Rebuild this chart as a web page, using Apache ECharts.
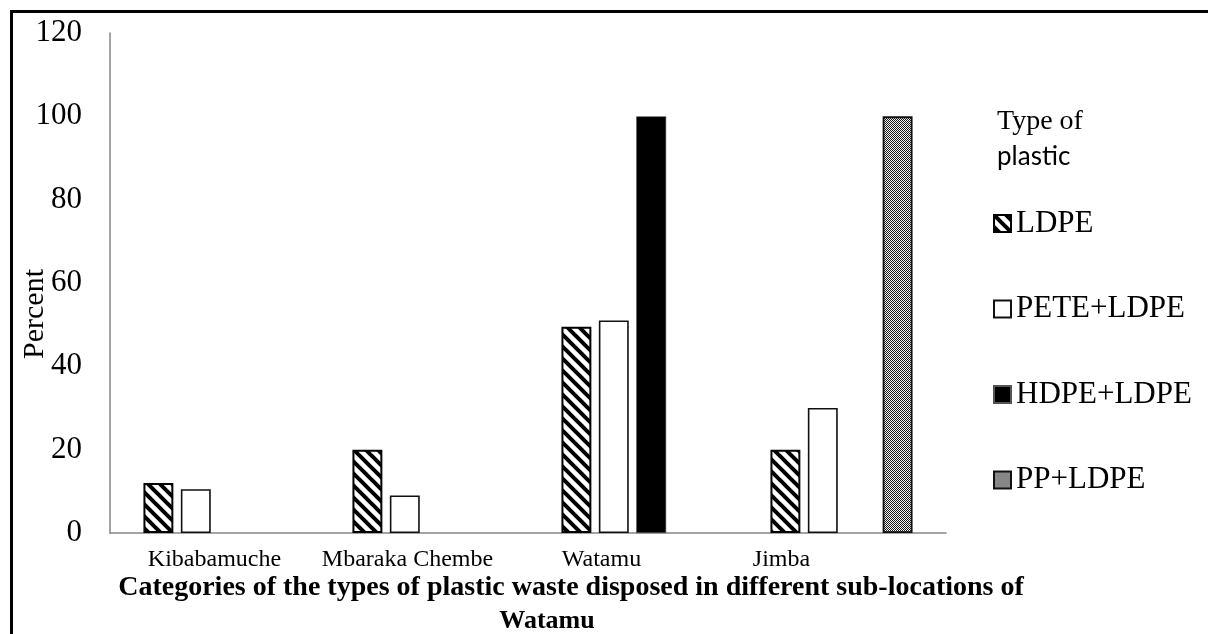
<!DOCTYPE html>
<html>
<head>
<meta charset="utf-8">
<script src="https://cdn.jsdelivr.net/npm/echarts@6/dist/echarts.min.js"></script>
<style>
html,body{margin:0;padding:0;background:#fff;}
#chart{width:1208px;height:634px;}
</style>
</head>
<body>
<div id="chart"></div>
<script>
// ---- data ----
const categories = ['Kibabamuche', 'Mbaraka Chembe', 'Watamu', 'Jimba'];
const seriesNames = ['LDPE', 'PETE+LDPE', 'HDPE+LDPE', 'PP+LDPE'];
const ldpe = [12, 20, 49.5, 20];
const peteLdpe = [10.5, 9, 51, 30];
const hdpeLdpe = [null, null, 100, null];
const ppLdpe = [null, null, null, 100];
const yTicks = [0, 20, 40, 60, 80, 100, 120];
const yAxisTitle = 'Percent';
const xAxisTitleLine1 = 'Categories of the types of plastic waste disposed in different sub-locations of';
const xAxisTitleLine2 = 'Watamu';
const legendTitle1 = 'Type of';
const legendTitle2 = 'plastic';

// ---- styles ----
const SERIF = "'Liberation Serif', 'Times New Roman', serif";

function stripePattern() {
  const c = document.createElement('canvas');
  c.width = 12; c.height = 12;
  const g = c.getContext('2d');
  g.fillStyle = '#fff'; g.fillRect(0, 0, 12, 12);
  g.strokeStyle = '#000'; g.lineWidth = 4;
  for (const x0 of [-12, 0, 12]) {
    g.beginPath(); g.moveTo(x0 - 2, -2); g.lineTo(x0 + 14, 14); g.stroke();
  }
  return c;
}
function checkerPattern() {
  const c = document.createElement('canvas');
  c.width = 2; c.height = 2;
  const g = c.getContext('2d');
  g.fillStyle = '#f4f4f4'; g.fillRect(0, 0, 2, 2);
  g.fillStyle = '#1a1a1a'; g.fillRect(0, 0, 1, 1); g.fillRect(1, 1, 1, 1);
  return c;
}

const labelShift = [0, 16, 31, 60];
const xData = categories.map((c, i) => ({
  value: c,
  textStyle: { padding: [0, labelShift[i] * 2, 0, 0] }
}));

const styles = [
  { color: { image: stripePattern(), repeat: 'repeat' }, borderColor: '#000', borderWidth: 2 },
  { color: '#fff', borderColor: '#111', borderWidth: 1.6 },
  { color: '#000', borderColor: '#555', borderWidth: 0.6 },
  { color: { image: checkerPattern(), repeat: 'repeat' }, borderColor: '#111', borderWidth: 1.8 }
];
const values = [ldpe, peteLdpe, hdpeLdpe, ppLdpe];

const chart = echarts.init(document.getElementById('chart'), null, { renderer: 'canvas' });
chart.setOption({
  animation: false,
  backgroundColor: '#fff',
  grid: { left: 110, right: 262, top: 33, bottom: 101, containLabel: false },
  legend: {
    orient: 'vertical',
    left: 988,
    top: 202.5,
    itemWidth: 17,
    itemHeight: 17,
    itemGap: 53.5,
    icon: 'rect',
    data: seriesNames,
    textStyle: { fontFamily: SERIF, fontSize: 31, color: '#000', lineHeight: 32 },
    selectedMode: false
  },
  xAxis: {
    type: 'category',
    data: xData,
    axisLine: { lineStyle: { color: '#868686', width: 1.5 } },
    axisTick: { show: false },
    axisLabel: { fontFamily: SERIF, fontSize: 24, color: '#000', margin: 15, interval: 0 }
  },
  yAxis: {
    type: 'value',
    min: yTicks[0],
    max: yTicks[yTicks.length - 1],
    interval: yTicks[1] - yTicks[0],
    splitLine: { show: false },
    axisLine: { show: true, lineStyle: { color: '#868686', width: 1.5 } },
    axisTick: { show: false },
    axisLabel: { fontFamily: SERIF, fontSize: 31, color: '#000', margin: 28 }
  },
  series: seriesNames.map((name, i) => ({
    name,
    type: 'bar',
    data: values[i],
    barGap: '25%',
    barCategoryGap: '32%',
    itemStyle: styles[i]
  })),
  graphic: [
    { type: 'rect', shape: { x: 11.5, y: 11.5, width: 1400, height: 800 }, style: { fill: null, stroke: '#000', lineWidth: 3 }, silent: true },
    { type: 'text', x: 35, y: 314, rotation: Math.PI / 2,
      style: { text: yAxisTitle, font: '30px ' + SERIF, fill: '#000', textAlign: 'center', textVerticalAlign: 'middle' } },
    { type: 'text', x: 571, y: 588,
      style: { text: xAxisTitleLine1, font: 'bold 28px ' + SERIF, fill: '#000', textAlign: 'center', textVerticalAlign: 'middle' } },
    { type: 'text', x: 547, y: 621,
      style: { text: xAxisTitleLine2, font: 'bold 26px ' + SERIF, fill: '#000', textAlign: 'center', textVerticalAlign: 'middle' } },
    { type: 'text', x: 997, y: 122,
      style: { text: legendTitle1, font: '28px ' + SERIF, fill: '#000', textAlign: 'left', textVerticalAlign: 'middle' } },
    { type: 'text', x: 997, y: 157,
      style: { text: legendTitle2, font: "26px Lato, 'Open Sans', sans-serif", fill: '#000', textAlign: 'left', textVerticalAlign: 'middle' } }
  ]
});
</script>
</body>
</html>
